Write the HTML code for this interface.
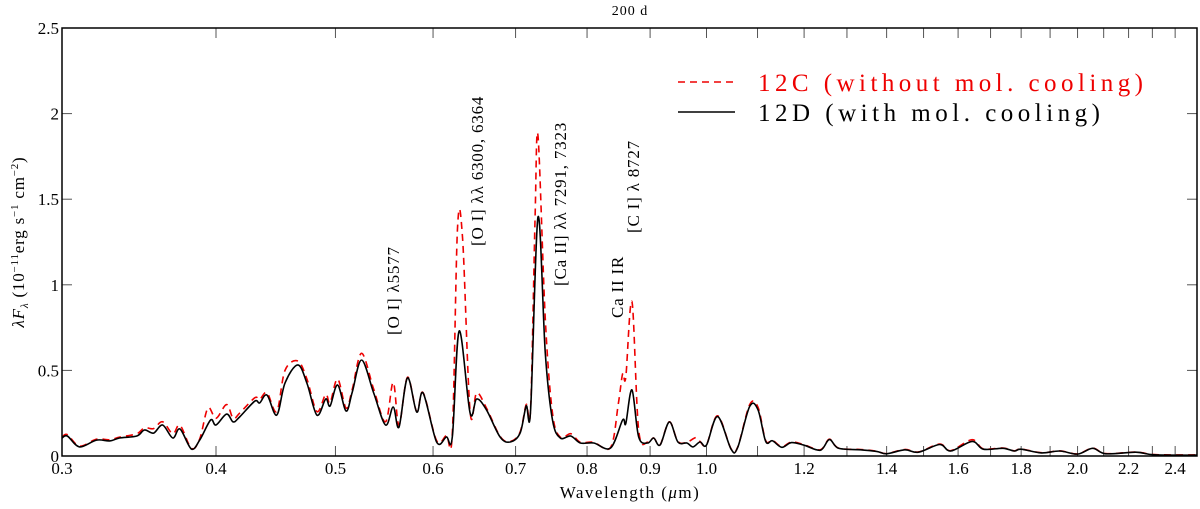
<!DOCTYPE html>
<html><head><meta charset="utf-8"><style>
html,body{margin:0;padding:0;background:#fff;}
svg{display:block;font-family:"Liberation Serif","DejaVu Serif",serif;}
</style></head><body>
<svg id="chart" width="1200" height="509" viewBox="0 0 1200 509" xmlns="http://www.w3.org/2000/svg">
<text x="630" y="15" font-size="14" text-anchor="middle" letter-spacing="1">200 d</text>
<g id="axes"></g>
<g id="series"></g>
<rect x="62" y="28" width="1135" height="428" fill="none" stroke="#000" stroke-width="1.5"/>
<g font-size="17" letter-spacing="0.8">
<text transform="translate(399,335) rotate(-90)">[O I] λ5577</text>
<text transform="translate(483,246) rotate(-90)">[O I] λλ 6300, 6364</text>
<text transform="translate(566,286) rotate(-90)">[Ca II] λλ 7291, 7323</text>
<text transform="translate(623,318) rotate(-90)">Ca II IR</text>
<text transform="translate(639,233) rotate(-90)">[C I] λ 8727</text>
</g>
<g>
<line x1="678" y1="82" x2="735" y2="82" stroke="#e00" stroke-width="1.5" stroke-dasharray="7,5"/>
<text x="758" y="91" font-size="25" fill="#e00" textLength="385" lengthAdjust="spacing">12C (without mol. cooling)</text>
<line x1="678" y1="112" x2="735" y2="112" stroke="#000" stroke-width="1.5"/>
<text x="758" y="121" font-size="25" fill="#000" textLength="342" lengthAdjust="spacing">12D (with mol. cooling)</text>
</g>
<text x="630" y="498" font-size="17" text-anchor="middle" letter-spacing="1.5">Wavelength (<tspan font-style="italic">μ</tspan>m)</text>
<text transform="translate(24,242) rotate(-90)" font-size="17" text-anchor="middle" letter-spacing="0.8"><tspan font-style="italic">λF</tspan><tspan font-style="italic" font-size="11" dy="4">λ</tspan><tspan dy="-4"> (10</tspan><tspan font-size="11" dy="-6">−11</tspan><tspan dy="6">erg s</tspan><tspan font-size="11" dy="-6">−1</tspan><tspan dy="6"> cm</tspan><tspan font-size="11" dy="-6">−2</tspan><tspan dy="6">)</tspan></text>
</svg>
<script>
const xTicks=[0.3,0.4,0.5,0.6,0.7,0.8,0.9,1.0,1.1,1.2,1.3,1.4,1.5,1.6,1.7,1.8,1.9,2.0,2.1,2.2,2.3,2.4];
const xTickLabels=["0.3","0.4","0.5","0.6","0.7","0.8","0.9","1.0","","1.2","","1.4","","1.6","","1.8","","2.0","","2.2","","2.4"];
const yTicks=[0,0.5,1,1.5,2,2.5];
const yTickLabels=["0","0.5","1","1.5","2","2.5"];
const wl12D=[0.300,0.303,0.310,0.320,0.328,0.334,0.345,0.350,0.356,0.362,0.369,0.374,0.382,0.388,0.396,0.400,0.408,0.413,0.418,0.430,0.434,0.440,0.448,0.455,0.466,0.474,0.483,0.491,0.495,0.502,0.510,0.516,0.525,0.537,0.549,0.557,0.563,0.572,0.582,0.589,0.604,0.615,0.622,0.630,0.643,0.651,0.663,0.680,0.693,0.706,0.714,0.720,0.730,0.740,0.750,0.761,0.776,0.790,0.810,0.836,0.855,0.860,0.870,0.881,0.896,0.906,0.917,0.933,0.948,0.964,0.975,0.988,1.000,1.021,1.047,1.060,1.084,1.101,1.117,1.131,1.151,1.172,1.200,1.237,1.258,1.280,1.334,1.374,1.400,1.448,1.486,1.546,1.578,1.642,1.677,1.740,1.777,1.800,1.869,1.935,2.000,2.057,2.108,2.230,2.310,2.500];
const flux12D=[0.105,0.117,0.053,0.093,0.088,0.105,0.117,0.152,0.134,0.181,0.105,0.158,0.041,0.093,0.210,0.181,0.245,0.199,0.228,0.320,0.310,0.356,0.239,0.426,0.532,0.426,0.239,0.333,0.292,0.415,0.263,0.374,0.561,0.368,0.181,0.286,0.169,0.456,0.257,0.368,0.082,0.111,0.111,0.730,0.251,0.333,0.269,0.111,0.082,0.134,0.292,0.269,1.396,0.600,0.210,0.105,0.117,0.076,0.076,0.047,0.210,0.190,0.386,0.111,0.076,0.105,0.064,0.199,0.082,0.076,0.053,0.082,0.064,0.230,0.040,0.050,0.290,0.270,0.085,0.089,0.051,0.078,0.063,0.034,0.096,0.045,0.036,0.027,0.013,0.036,0.022,0.067,0.029,0.085,0.040,0.045,0.029,0.040,0.018,0.029,0.011,0.045,0.013,0.022,0.007,0.005];
const wl12C=[0.300,0.303,0.310,0.320,0.328,0.334,0.345,0.350,0.356,0.362,0.369,0.374,0.382,0.388,0.394,0.400,0.408,0.413,0.418,0.430,0.434,0.440,0.448,0.455,0.466,0.474,0.483,0.491,0.495,0.502,0.510,0.516,0.525,0.537,0.549,0.557,0.563,0.572,0.582,0.589,0.604,0.615,0.622,0.628,0.634,0.643,0.651,0.663,0.680,0.693,0.706,0.714,0.720,0.726,0.730,0.740,0.750,0.761,0.776,0.790,0.810,0.836,0.848,0.855,0.860,0.870,0.881,0.896,0.906,0.917,0.933,0.948,0.964,0.980,0.988,1.000,1.021,1.047,1.060,1.084,1.101,1.117,1.131,1.151,1.172,1.200,1.237,1.258,1.280,1.334,1.374,1.400,1.448,1.486,1.546,1.578,1.642,1.677,1.740,1.777,1.800,1.869,1.935,2.000,2.057,2.108,2.230,2.310,2.500];
const flux12C=[0.110,0.125,0.058,0.098,0.095,0.110,0.130,0.165,0.160,0.200,0.130,0.180,0.045,0.100,0.280,0.220,0.300,0.220,0.250,0.340,0.330,0.370,0.260,0.500,0.555,0.450,0.260,0.360,0.310,0.450,0.280,0.390,0.600,0.390,0.200,0.430,0.180,0.460,0.260,0.370,0.090,0.120,0.130,1.330,1.270,0.260,0.370,0.280,0.115,0.085,0.140,0.300,0.280,1.400,1.870,0.800,0.250,0.110,0.130,0.080,0.080,0.050,0.300,0.480,0.460,0.900,0.150,0.080,0.105,0.066,0.200,0.085,0.080,0.107,0.085,0.066,0.235,0.042,0.052,0.300,0.285,0.090,0.092,0.055,0.082,0.066,0.036,0.098,0.046,0.038,0.028,0.014,0.038,0.024,0.070,0.031,0.095,0.042,0.047,0.030,0.041,0.019,0.030,0.012,0.046,0.014,0.023,0.008,0.006];

const X0=62,X1=1197,Y0=456,Y1=28,XMIN=0.3,XMAX=2.5,YMAX=2.5;
function xScale(v){return X0+(X1-X0)*Math.log(v/XMIN)/Math.log(XMAX/XMIN);}
function yScale(v){return Y0-(Y0-Y1)*v/YMAX;}
const NS="http://www.w3.org/2000/svg";
const axes=document.getElementById('axes');
const series=document.getElementById('series');
function mk(tag,attrs,parent){const e=document.createElementNS(NS,tag);for(const k in attrs)e.setAttribute(k,attrs[k]);parent.appendChild(e);return e;}

xTicks.forEach((t,i)=>{
  const x=xScale(t);
  const tb=mk('line',{x1:x,y1:Y0,x2:x,y2:Y0-10,stroke:'#555','stroke-width':1},axes);
  
  
  const tt=mk('line',{x1:x,y1:Y1,x2:x,y2:Y1+10,stroke:'#555','stroke-width':1},axes);
  
  
  if(xTickLabels[i]){
    const l=mk('text',{x:x,y:474,'font-size':17,'text-anchor':'middle'},axes);
    l.textContent=xTickLabels[i];
    
    
  }
});
yTicks.forEach((t,i)=>{
  const y=yScale(t);
  const tl=mk('line',{x1:X0,y1:y,x2:X0+10,y2:y,stroke:'#555','stroke-width':1},axes);
  
  
  const tr=mk('line',{x1:X1,y1:y,x2:X1-10,y2:y,stroke:'#555','stroke-width':1},axes);
  
  
  const l=mk('text',{x:X0-3,y:y+6,'font-size':17,'text-anchor':'end'},axes);
  l.textContent=yTickLabels[i];
  
  
});

function pathFor(wl,fl){
  const p=wl.map((w,i)=>[xScale(w),yScale(fl[i])]);
  let d='M'+p[0][0].toFixed(1)+','+p[0][1].toFixed(1);
  for(let i=0;i<p.length-1;i++){
    const a=p[Math.max(0,i-1)],b=p[i],c=p[i+1],e=p[Math.min(p.length-1,i+2)];
    const c1=[b[0]+(c[0]-a[0])/6,b[1]+(c[1]-a[1])/6];
    const c2=[c[0]-(e[0]-b[0])/6,c[1]-(e[1]-b[1])/6];
    d+=' C'+c1[0].toFixed(1)+','+c1[1].toFixed(1)+' '+c2[0].toFixed(1)+','+c2[1].toFixed(1)+' '+c[0].toFixed(1)+','+c[1].toFixed(1);
  }
  return d;
}
const red=mk('path',{d:pathFor(wl12C,flux12C),fill:'none',stroke:'#e00','stroke-width':1.6,'stroke-dasharray':'7,5'},series);


const blk=mk('path',{d:pathFor(wl12D,flux12D),fill:'none',stroke:'#000','stroke-width':1.6},series);


</script>
</body></html>
